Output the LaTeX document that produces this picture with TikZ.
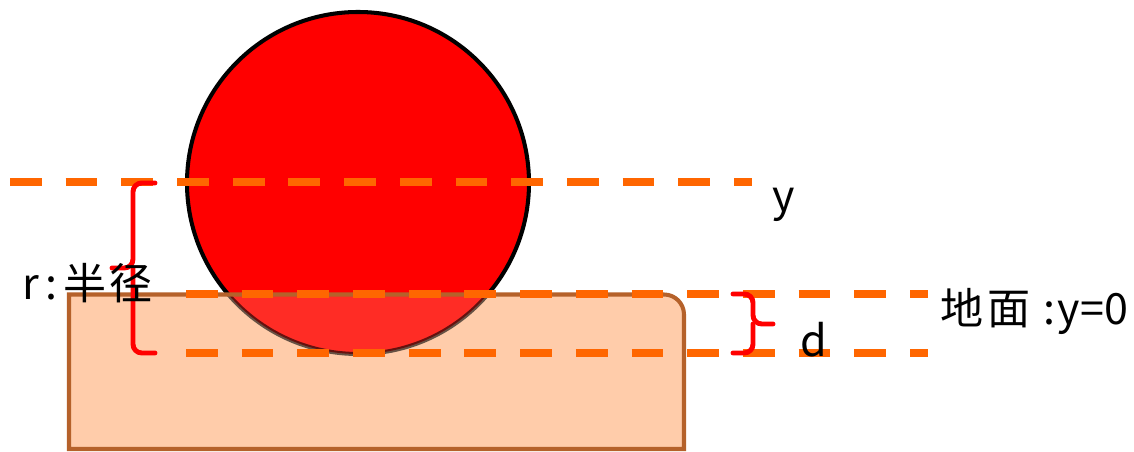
\documentclass[tikz,border=0pt]{standalone}
\usepackage{fontspec}
\setmainfont{Noto Sans CJK SC}
\usepackage{tikz}
\usetikzlibrary{positioning}
\definecolor{groundfill}{HTML}{FFCCAA}
\definecolor{groundline}{HTML}{B5612A}
\definecolor{dashorange}{HTML}{FF6600}

\begin{document}
\begin{tikzpicture}[
  x=0.02cm, y=0.02cm,
  level/.style={draw=dashorange, line width=4.5pt, dash pattern=on 18.1pt off 13.6pt},
  bracket/.style={draw=red, line width=2.8pt, rounded corners=5pt, line cap=round},
  ball/.style={fill=red, draw=black, line width=2.3pt},
  label/.style={font=\fontsize{24.5}{28}\selectfont, anchor=base west, inner sep=0pt}
]
  \useasboundingbox (0,0) rectangle (1134,452);

  % ball and ground
  \path[ball] (358,269) circle (171);
  \path[fill=groundfill] (69,3) -- (69,157.5) -- (664,157.5)
    arc[start angle=90, end angle=0, radius=20] -- (684,3) -- cycle;
  \begin{scope}
    \clip (69,3) rectangle (684,157.5);
    \path[fill=red, fill opacity=0.78, draw=black, draw opacity=0.6, line width=2.3pt] (358,269) circle (171);
  \end{scope}
  \draw[groundline, line width=2.3pt] (69,3) -- (69,157.5) -- (664,157.5)
    arc[start angle=90, end angle=0, radius=20] -- (684,3) -- cycle;

  % levels
  \draw[level] (10,270) -- (752,270);
  \draw[level] (186,158) -- (928,158);
  \draw[level] (186,99) -- (928,99);

  % brackets
  \draw[bracket] (155,269) -- (133,269) -- (133,184) -- (112,184);
  \draw[bracket] (133,184) -- (133,99) -- (155,99);
  \draw[bracket] (733,158) -- (753,158) -- (753,128) -- (773,128);
  \draw[bracket] (753,128) -- (753,99) -- (733,99);

  % labels
  \node[label] (ylab) at (772,240) {y};
  \node[label] (rlab) at (22,152) {r\hspace{0.15em}:\hspace{0.15em}半\hspace{0.05em}径};
  \node[label] (dlab) at (800,95) {d};
  \node[label] (glab) at (940,127) {地\hspace{0.1em}面\hspace{0.3em}:\hspace{0.05em}y=0};
\end{tikzpicture}
\end{document}
